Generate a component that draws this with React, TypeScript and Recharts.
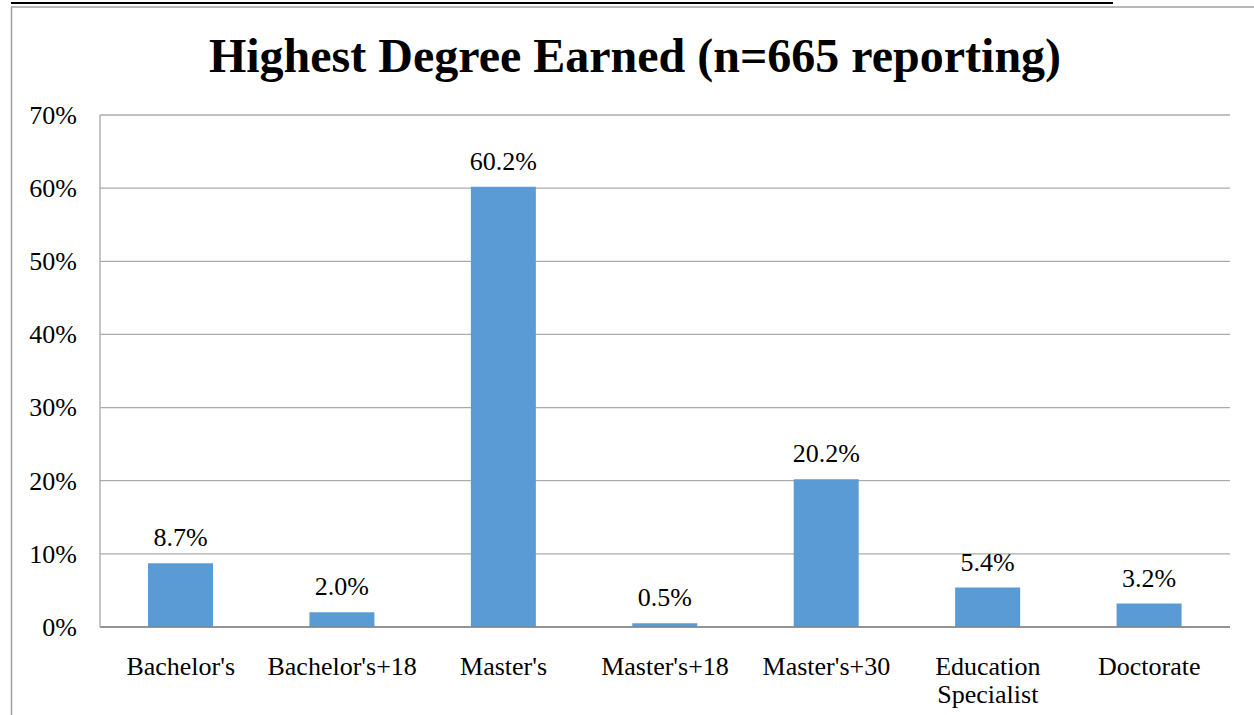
import React from "react";
import { BarChart, Bar, XAxis, YAxis, CartesianGrid } from "recharts";

const categories: string[] = [
  "Bachelor's",
  "Bachelor's+18",
  "Master's",
  "Master's+18",
  "Master's+30",
  "Education Specialist",
  "Doctorate",
];
const percents: number[] = [8.7, 2.0, 60.2, 0.5, 20.2, 5.4, 3.2];
const yTicks: number[] = [0, 10, 20, 30, 40, 50, 60, 70];
const title = "Highest Degree Earned (n=665 reporting)";

const data = categories.map((c, i) => ({ name: c, value: percents[i] }));

const FONT = "'Liberation Serif', 'Times New Roman', serif";
const textStyle: React.CSSProperties = { fontFamily: FONT, fontSize: 26, fill: "#000" };

const XTick = (props: any) => {
  const { x, y, payload } = props;
  const label: string = payload.value;
  const lines = label.length > 14 ? label.split(" ") : [label];
  return (
    <text x={x} y={y} textAnchor="middle" style={textStyle}>
      {lines.map((l, i) => (
        <tspan key={i} x={x} dy={i === 0 ? 40 : 28}>
          {l}
        </tspan>
      ))}
    </text>
  );
};

const YTick = (props: any) => {
  const { x, y, payload } = props;
  return (
    <text x={x} y={y} dy="0.34em" textAnchor="end" style={textStyle}>
      {`${payload.value}%`}
    </text>
  );
};

const renderLabel = (props: any) => {
  const { x, y, width, value } = props;
  return (
    <text x={x + width / 2} y={y - 17} textAnchor="middle" style={textStyle}>
      {`${Number(value).toFixed(1)}%`}
    </text>
  );
};

export default function App() {
  return (
    <div
      style={{
        position: "absolute",
        left: 0,
        top: 0,
        width: 1254,
        height: 715,
        background: "#fff",
        fontFamily: FONT,
      }}
    >
      <BarChart
        width={1254}
        height={715}
        data={data}
        margin={{ top: 115, right: 24, bottom: 0, left: 0 }}
        style={{ fontFamily: FONT }}
      >
        <CartesianGrid vertical={false} stroke="#ababab" strokeWidth={1.3} />
        <XAxis
          dataKey="name"
          height={88}
          tick={<XTick />}
          tickLine={false}
          axisLine={{ stroke: "#868686", strokeWidth: 1.3 }}
          interval={0}
        />
        <YAxis
          width={100}
          domain={[0, 70]}
          ticks={yTicks}
          tick={<YTick />}
          tickLine={false}
          tickSize={0}
          tickMargin={23}
          axisLine={{ stroke: "#a6a6a6", strokeWidth: 1.3 }}
        />
        <Bar
          dataKey="value"
          fill="#5B9BD5"
          barSize={65}
          isAnimationActive={false}
          label={renderLabel}
        />
      </BarChart>
      <svg
        width={1254}
        height={715}
        style={{ position: "absolute", left: 0, top: 0, pointerEvents: "none" }}
      >
        <line x1={11} y1={3} x2={1113} y2={3} stroke="#000" strokeWidth={2.2} />
        <line x1={11} y1={7} x2={1254} y2={7} stroke="#a0a0a0" strokeWidth={1.5} />
        <line x1={11.5} y1={7} x2={11.5} y2={715} stroke="#a0a0a0" strokeWidth={1.5} />
        <text
          x={635}
          y={72}
          textAnchor="middle"
          style={{ fontFamily: FONT, fontWeight: "bold", fontSize: 48, fill: "#000" }}
        >
          {title}
        </text>
      </svg>
    </div>
  );
}
